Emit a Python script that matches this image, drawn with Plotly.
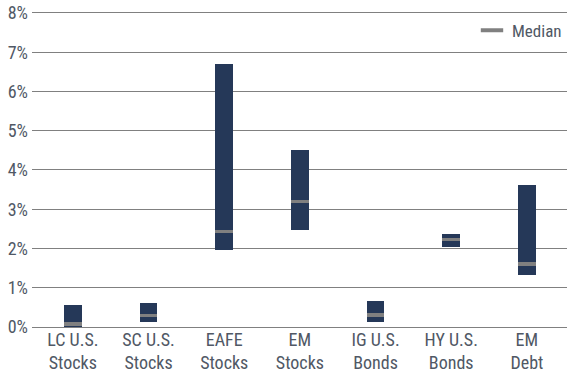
import plotly.graph_objects as go

categories = ["LC U.S.<br>Stocks", "SC U.S.<br>Stocks", "EAFE<br>Stocks", "EM<br>Stocks",
              "IG U.S.<br>Bonds", "HY U.S.<br>Bonds", "EM<br>Debt"]
range_low = [0.00, 0.135, 1.95, 2.46, 0.135, 2.05, 1.33]
range_high = [0.57, 0.62, 6.71, 4.52, 0.67, 2.38, 3.63]
median = [0.08, 0.29, 2.43, 3.20, 0.31, 2.23, 1.60]
y_ticks = [0, 1, 2, 3, 4, 5, 6, 7, 8]
y_labels = [f"{v}%" for v in y_ticks]

FONT = "Roboto Condensed, Liberation Sans Narrow, Arial Narrow, Liberation Sans, sans-serif"
NAVY = "#253858"
GRAY = "#808080"
TXT = "#505865"
MED_H = 0.09

fig = go.Figure()
fig.add_trace(go.Bar(
    x=categories,
    y=[h - l for h, l in zip(range_high, range_low)],
    base=range_low,
    marker=dict(color=NAVY, line=dict(width=0)),
    width=0.235,
    showlegend=False,
    hoverinfo="skip",
))
fig.add_trace(go.Bar(
    x=categories,
    y=[MED_H] * len(median),
    base=[m - MED_H / 2 for m in median],
    marker=dict(color=GRAY, line=dict(width=0)),
    width=0.235,
    showlegend=False,
    hoverinfo="skip",
))
fig.add_trace(go.Scatter(
    x=[None], y=[None],
    mode="markers",
    name="Median",
    marker=dict(symbol="line-ew", size=18, color=GRAY, line=dict(color=GRAY, width=4)),
    showlegend=True,
))

fig.update_layout(
    width=580, height=376,
    margin=dict(l=32, r=13, t=11, b=49),
    paper_bgcolor="white", plot_bgcolor="white",
    font=dict(family=FONT, size=18, color=TXT),
    showlegend=True,
    legend=dict(x=1.0, y=0.995, xanchor="right", yanchor="top",
                font=dict(family=FONT, size=17, color=TXT),
                bgcolor="rgba(0,0,0,0)", itemwidth=30),
    barmode="overlay",
    bargap=0,
)
fig.update_xaxes(
    type="category", range=[-0.54, 6.53],
    showgrid=False, showline=False, ticks="", automargin=False,
    tickfont=dict(family=FONT, size=18, color=TXT),
)
fig.update_yaxes(
    range=[0, 8.05], tickvals=y_ticks, ticktext=y_labels,
    showgrid=True, gridcolor=GRAY, gridwidth=1,
    zeroline=True, zerolinecolor=GRAY, zerolinewidth=1,
    showline=False, ticks="", ticklabelstandoff=3, automargin=False,
    tickfont=dict(family=FONT, size=18, color=TXT),
)

fig.write_html("out.html", config={"displayModeBar": False},
               post_script="document.body.style.margin='0px';")
